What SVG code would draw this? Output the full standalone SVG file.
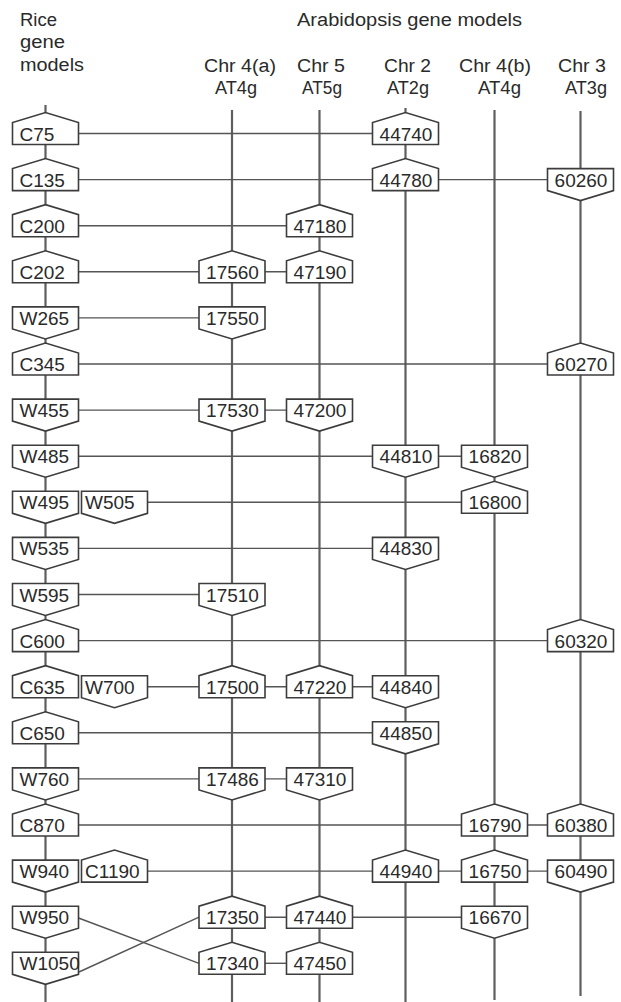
<svg xmlns="http://www.w3.org/2000/svg" xmlns:xlink="http://www.w3.org/1999/xlink" width="621" height="1002" viewBox="0 0 621 1002">
<style>
text{font-family:"Liberation Sans",Arial,sans-serif;fill:#2a2a2a}
.hd{font-size:18px}
.lb{font-size:19px}
.ar{text-anchor:middle}
.axis{stroke:#5e5e5e;stroke-width:2.2;fill:none}
.link{stroke:#555;stroke-width:1.4;fill:none}
.box{fill:#fff;stroke:#3c3c3c;stroke-width:1.6;stroke-linejoin:miter}
</style>
<defs>
<polygon id="up" class="box" points="-33,11 -33,-11 0,-21 33,-11 33,11"/>
<polygon id="dn" class="box" points="-33,-11 33,-11 33,11 0,21 -33,11"/>
</defs>
<rect width="621" height="1002" fill="#fff"/>
<g id="headers">
<text class="hd" x="20" y="26" textLength="37" lengthAdjust="spacingAndGlyphs">Rice</text>
<text class="hd" x="20" y="47.5" textLength="45" lengthAdjust="spacingAndGlyphs">gene</text>
<text class="hd" x="20" y="71" textLength="64" lengthAdjust="spacingAndGlyphs">models</text>
<text class="hd" x="297" y="25.5" textLength="225" lengthAdjust="spacingAndGlyphs">Arabidopsis gene models</text>
<text class="hd" x="204" y="72" textLength="72" lengthAdjust="spacingAndGlyphs">Chr 4(a)</text>
<text class="hd" x="215" y="94" textLength="42" lengthAdjust="spacingAndGlyphs">AT4g</text>
<text class="hd" x="297" y="72" textLength="48" lengthAdjust="spacingAndGlyphs">Chr 5</text>
<text class="hd" x="302" y="94" textLength="40" lengthAdjust="spacingAndGlyphs">AT5g</text>
<text class="hd" x="384" y="72" textLength="47" lengthAdjust="spacingAndGlyphs">Chr 2</text>
<text class="hd" x="387" y="94" textLength="42" lengthAdjust="spacingAndGlyphs">AT2g</text>
<text class="hd" x="459" y="72" textLength="72" lengthAdjust="spacingAndGlyphs">Chr 4(b)</text>
<text class="hd" x="478" y="94" textLength="43" lengthAdjust="spacingAndGlyphs">AT4g</text>
<text class="hd" x="558" y="72" textLength="48" lengthAdjust="spacingAndGlyphs">Chr 3</text>
<text class="hd" x="565" y="94" textLength="42" lengthAdjust="spacingAndGlyphs">AT3g</text>
</g>
<g id="connectors">
<line class="axis" x1="45.5" y1="105" x2="45.5" y2="1002"/>
<line class="axis" x1="232" y1="110" x2="232" y2="1002"/>
<line class="axis" x1="319.5" y1="110" x2="319.5" y2="1002"/>
<line class="axis" x1="405.5" y1="108" x2="405.5" y2="1002"/>
<line class="axis" x1="494.5" y1="110" x2="494.5" y2="1000"/>
<line class="axis" x1="580.5" y1="111" x2="580.5" y2="996"/>
<line class="link" x1="78.5" y1="133.5" x2="372.5" y2="133.5"/>
<line class="link" x1="78.5" y1="179.6" x2="547.5" y2="179.6"/>
<line class="link" x1="78.5" y1="225.7" x2="286.5" y2="225.7"/>
<line class="link" x1="78.5" y1="271.8" x2="286.5" y2="271.8"/>
<line class="link" x1="78.5" y1="317.9" x2="199" y2="317.9"/>
<line class="link" x1="78.5" y1="364" x2="547.5" y2="364"/>
<line class="link" x1="78.5" y1="410.1" x2="286.5" y2="410.1"/>
<line class="link" x1="78.5" y1="456.2" x2="461.5" y2="456.2"/>
<line class="link" x1="147.5" y1="502.3" x2="461.5" y2="502.3"/>
<line class="link" x1="78.5" y1="548.4" x2="372.5" y2="548.4"/>
<line class="link" x1="78.5" y1="594.5" x2="199" y2="594.5"/>
<line class="link" x1="78.5" y1="640.6" x2="547.5" y2="640.6"/>
<line class="link" x1="147.5" y1="686.7" x2="372.5" y2="686.7"/>
<line class="link" x1="78.5" y1="732.8" x2="372.5" y2="732.8"/>
<line class="link" x1="78.5" y1="778.9" x2="286.5" y2="778.9"/>
<line class="link" x1="78.5" y1="825" x2="547.5" y2="825"/>
<line class="link" x1="147.5" y1="871.1" x2="547.5" y2="871.1"/>
<line class="link" x1="265" y1="917.2" x2="461.5" y2="917.2"/>
<line class="link" x1="265" y1="963.3" x2="286.5" y2="963.3"/>
<line class="link" x1="78.5" y1="918" x2="199" y2="963.3"/>
<line class="link" x1="79" y1="972" x2="199" y2="917.2"/>
</g>
<g id="C75" transform="translate(45.5,133.5)"><use xlink:href="#up"/><text class="lb" x="-26" y="7">C75</text></g>
<g id="C135" transform="translate(45.5,179.6)"><use xlink:href="#up"/><text class="lb" x="-26" y="7">C135</text></g>
<g id="C200" transform="translate(45.5,225.7)"><use xlink:href="#up"/><text class="lb" x="-26" y="7">C200</text></g>
<g id="C202" transform="translate(45.5,271.8)"><use xlink:href="#up"/><text class="lb" x="-26" y="7">C202</text></g>
<g id="W265" transform="translate(45.5,317.9)"><use xlink:href="#dn"/><text class="lb" x="-26" y="7">W265</text></g>
<g id="C345" transform="translate(45.5,364)"><use xlink:href="#up"/><text class="lb" x="-26" y="7">C345</text></g>
<g id="W455" transform="translate(45.5,410.1)"><use xlink:href="#dn"/><text class="lb" x="-26" y="7">W455</text></g>
<g id="W485" transform="translate(45.5,456.2)"><use xlink:href="#dn"/><text class="lb" x="-26" y="7">W485</text></g>
<g id="W495" transform="translate(45.5,502.3)"><use xlink:href="#dn"/><text class="lb" x="-26" y="7">W495</text></g>
<g id="W505" transform="translate(114.5,502.3)"><use xlink:href="#dn"/><text class="lb" x="-29.5" y="7">W505</text></g>
<g id="W535" transform="translate(45.5,548.4)"><use xlink:href="#dn"/><text class="lb" x="-26" y="7">W535</text></g>
<g id="W595" transform="translate(45.5,594.5)"><use xlink:href="#dn"/><text class="lb" x="-26" y="7">W595</text></g>
<g id="C600" transform="translate(45.5,640.6)"><use xlink:href="#up"/><text class="lb" x="-26" y="7">C600</text></g>
<g id="C635" transform="translate(45.5,686.7)"><use xlink:href="#up"/><text class="lb" x="-26" y="7">C635</text></g>
<g id="W700" transform="translate(114.5,686.7)"><use xlink:href="#dn"/><text class="lb" x="-29.5" y="7">W700</text></g>
<g id="C650" transform="translate(45.5,732.8)"><use xlink:href="#up"/><text class="lb" x="-26" y="7">C650</text></g>
<g id="W760" transform="translate(45.5,778.9)"><use xlink:href="#dn"/><text class="lb" x="-26" y="7">W760</text></g>
<g id="C870" transform="translate(45.5,825)"><use xlink:href="#up"/><text class="lb" x="-26" y="7">C870</text></g>
<g id="W940" transform="translate(45.5,871.1)"><use xlink:href="#dn"/><text class="lb" x="-26" y="7">W940</text></g>
<g id="C1190" transform="translate(114.5,871.1)"><use xlink:href="#up"/><text class="lb" x="-29.5" y="7">C1190</text></g>
<g id="W950" transform="translate(45.5,917.2)"><use xlink:href="#dn"/><text class="lb" x="-26" y="7">W950</text></g>
<g id="W1050" transform="translate(45.5,963.3)"><use xlink:href="#dn"/><text class="lb" x="-26" y="7">W1050</text></g>
<g id="n44740" transform="translate(405.5,133.5)"><use xlink:href="#up"/><text class="lb ar" x="0.5" y="7">44740</text></g>
<g id="n44780" transform="translate(405.5,179.6)"><use xlink:href="#up"/><text class="lb ar" x="0.5" y="7">44780</text></g>
<g id="n60260" transform="translate(580.5,179.6)"><use xlink:href="#dn"/><text class="lb ar" x="0.5" y="7">60260</text></g>
<g id="n47180" transform="translate(319.5,225.7)"><use xlink:href="#up"/><text class="lb ar" x="0.5" y="7">47180</text></g>
<g id="n17560" transform="translate(232,271.8)"><use xlink:href="#up"/><text class="lb ar" x="0.5" y="7">17560</text></g>
<g id="n47190" transform="translate(319.5,271.8)"><use xlink:href="#up"/><text class="lb ar" x="0.5" y="7">47190</text></g>
<g id="n17550" transform="translate(232,317.9)"><use xlink:href="#dn"/><text class="lb ar" x="0.5" y="7">17550</text></g>
<g id="n60270" transform="translate(580.5,364)"><use xlink:href="#up"/><text class="lb ar" x="0.5" y="7">60270</text></g>
<g id="n17530" transform="translate(232,410.1)"><use xlink:href="#dn"/><text class="lb ar" x="0.5" y="7">17530</text></g>
<g id="n47200" transform="translate(319.5,410.1)"><use xlink:href="#dn"/><text class="lb ar" x="0.5" y="7">47200</text></g>
<g id="n44810" transform="translate(405.5,456.2)"><use xlink:href="#dn"/><text class="lb ar" x="0.5" y="7">44810</text></g>
<g id="n16820" transform="translate(494.5,456.2)"><use xlink:href="#dn"/><text class="lb ar" x="0.5" y="7">16820</text></g>
<g id="n16800" transform="translate(494.5,502.3)"><use xlink:href="#up"/><text class="lb ar" x="0.5" y="7">16800</text></g>
<g id="n44830" transform="translate(405.5,548.4)"><use xlink:href="#dn"/><text class="lb ar" x="0.5" y="7">44830</text></g>
<g id="n17510" transform="translate(232,594.5)"><use xlink:href="#dn"/><text class="lb ar" x="0.5" y="7">17510</text></g>
<g id="n60320" transform="translate(580.5,640.6)"><use xlink:href="#up"/><text class="lb ar" x="0.5" y="7">60320</text></g>
<g id="n17500" transform="translate(232,686.7)"><use xlink:href="#up"/><text class="lb ar" x="0.5" y="7">17500</text></g>
<g id="n47220" transform="translate(319.5,686.7)"><use xlink:href="#up"/><text class="lb ar" x="0.5" y="7">47220</text></g>
<g id="n44840" transform="translate(405.5,686.7)"><use xlink:href="#dn"/><text class="lb ar" x="0.5" y="7">44840</text></g>
<g id="n44850" transform="translate(405.5,732.8)"><use xlink:href="#dn"/><text class="lb ar" x="0.5" y="7">44850</text></g>
<g id="n17486" transform="translate(232,778.9)"><use xlink:href="#dn"/><text class="lb ar" x="0.5" y="7">17486</text></g>
<g id="n47310" transform="translate(319.5,778.9)"><use xlink:href="#dn"/><text class="lb ar" x="0.5" y="7">47310</text></g>
<g id="n16790" transform="translate(494.5,825)"><use xlink:href="#up"/><text class="lb ar" x="0.5" y="7">16790</text></g>
<g id="n60380" transform="translate(580.5,825)"><use xlink:href="#up"/><text class="lb ar" x="0.5" y="7">60380</text></g>
<g id="n44940" transform="translate(405.5,871.1)"><use xlink:href="#up"/><text class="lb ar" x="0.5" y="7">44940</text></g>
<g id="n16750" transform="translate(494.5,871.1)"><use xlink:href="#up"/><text class="lb ar" x="0.5" y="7">16750</text></g>
<g id="n60490" transform="translate(580.5,871.1)"><use xlink:href="#dn"/><text class="lb ar" x="0.5" y="7">60490</text></g>
<g id="n17350" transform="translate(232,917.2)"><use xlink:href="#up"/><text class="lb ar" x="0.5" y="7">17350</text></g>
<g id="n47440" transform="translate(319.5,917.2)"><use xlink:href="#up"/><text class="lb ar" x="0.5" y="7">47440</text></g>
<g id="n16670" transform="translate(494.5,917.2)"><use xlink:href="#dn"/><text class="lb ar" x="0.5" y="7">16670</text></g>
<g id="n17340" transform="translate(232,963.3)"><use xlink:href="#up"/><text class="lb ar" x="0.5" y="7">17340</text></g>
<g id="n47450" transform="translate(319.5,963.3)"><use xlink:href="#up"/><text class="lb ar" x="0.5" y="7">47450</text></g>
</svg>
